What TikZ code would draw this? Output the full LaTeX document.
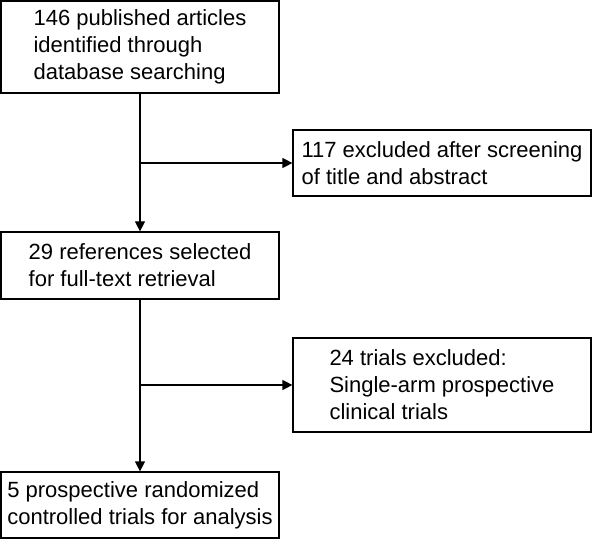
\documentclass[tikz,border=0pt]{standalone}
\usepackage{fontspec}
\setmainfont{Liberation Sans}
\usetikzlibrary{arrows.meta}
\begin{document}
\begin{tikzpicture}[x=1pt,y=1pt,
  box/.style={draw=black, line width=1.2pt, align=left, inner sep=0pt,
    font=\fontsize{22}{27}\selectfont},
  arr/.style={line width=1.2pt, -{Triangle[length=10pt,width=10pt]}}]
\useasboundingbox (0,0) rectangle (592,-540);
\node[box, minimum width=278pt, minimum height=92pt] (b1) at (140,-47)
  {146 published articles\\identified through\\database searching};
\node[box, minimum width=298pt, minimum height=66pt] (r1) at (442,-163)
  {117 excluded after screening\\of title and abstract};
\node[box, minimum width=278pt, minimum height=67pt] (b2) at (140,-265.5)
  {29 references selected\\for full-text retrieval};
\node[box, minimum width=298pt, minimum height=94pt] (r2) at (442,-385)
  {24 trials excluded:\\Single-arm prospective\\clinical trials};
\node[box, minimum width=278pt, minimum height=66pt] (b3) at (140,-505)
  {5 prospective randomized\\controlled trials for analysis};
\draw[arr] (b1.south) -- (b2.north);
\draw[arr] (b1.south |- r1.west) -- (r1.west);
\draw[arr] (b2.south) -- (b3.north);
\draw[arr] (b2.south |- r2.west) -- (r2.west);
\end{tikzpicture}
\end{document}
